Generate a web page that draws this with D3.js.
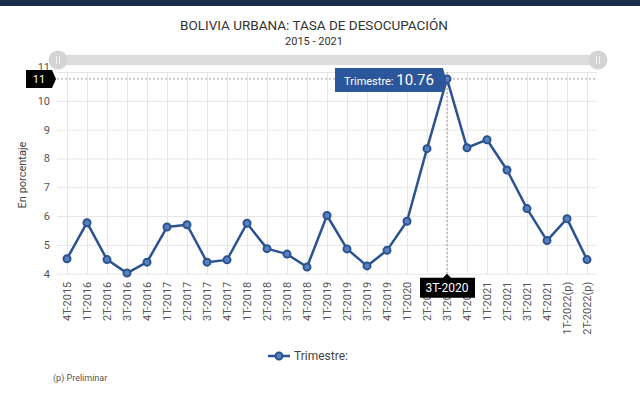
<html>
<head>
<script src="https://d3js.org/d3.v7.min.js"></script>
<style>
  body { margin: 0; background: #fff; }
  text { font-family: Roboto, "Noto Sans", sans-serif; }
  .grid line { stroke: #e6e6e6; }
  .grid .domain { stroke: none; }
  .axis .domain { stroke: none; }
  .axis line { stroke: none; }
  .axis text { fill: #555; font-size: 11px; }
</style>
</head>
<body>
<svg id="chart" width="640" height="395"></svg>
<script>
// data
const quarters = ["4T-2015","1T-2016","2T-2016","3T-2016","4T-2016","1T-2017","2T-2017","3T-2017","4T-2017",
  "1T-2018","2T-2018","3T-2018","4T-2018","1T-2019","2T-2019","3T-2019","4T-2019",
  "1T-2020","2T-2020","3T-2020","4T-2020","1T-2021","2T-2021","3T-2021","4T-2021","1T-2022(p)","2T-2022(p)"];
const rates = [4.52, 5.77, 4.49, 4.02, 4.40, 5.62, 5.70, 4.40, 4.48,
  5.75, 4.87, 4.68, 4.23, 6.02, 4.86, 4.27, 4.81,
  5.82, 8.34, 10.76, 8.37, 8.65, 7.60, 6.26, 5.15, 5.91, 4.49];
const yTicks = [4, 5, 6, 7, 8, 9, 10, 11];
const highlight = "3T-2020";

const svg = d3.select('svg#chart');
const margins = {top: 72, left: 57, right: 43, bottom: 121};
const width = 640, height = 395;
const chartWidth = width - margins.left - margins.right;
const chartHeight = height - margins.top - margins.bottom - 0.3;

// top bar
svg.append('rect').attr('x', 0).attr('y', 0).attr('width', width).attr('height', 6).attr('fill', '#1c2d4b');

// titles
svg.append('text').attr('x', 314).attr('y', 30).attr('text-anchor', 'middle')
  .attr('font-size', 13.5).attr('fill', '#333').text('BOLIVIA URBANA: TASA DE DESOCUPACIÓN');
svg.append('text').attr('x', 314).attr('y', 45).attr('text-anchor', 'middle')
  .attr('font-size', 11).attr('fill', '#333').text('2015 - 2021');

const xScale = d3.scalePoint().domain(quarters).range([0, chartWidth]).padding(0.5);
const yScale = d3.scaleLinear().domain([4, 11]).range([chartHeight, 0]);

const chartArea = svg.append('g').attr('transform', `translate(${margins.left},${margins.top})`);

// gridlines
chartArea.append('g').attr('class', 'grid')
  .call(d3.axisLeft(yScale).tickValues(yTicks).tickSize(-chartWidth).tickFormat(''));
chartArea.append('g').attr('class', 'grid')
  .call(d3.axisBottom(xScale).tickSize(chartHeight).tickFormat(''));

// y axis (top label 11 sits partly under the scrollbar)
const leftAxis = chartArea.append('g').attr('class', 'axis')
  .attr('transform', 'translate(-4,0)')
  .call(d3.axisLeft(yScale).tickValues(yTicks).tickSize(0).tickFormat(d3.format('d')));
leftAxis.selectAll('text').attr('font-size', 12).attr('fill', '#555');
leftAxis.selectAll('.tick').filter(d => d === 11).select('text').attr('dy', '-0.1em');

// x axis
const bottomAxis = chartArea.append('g').attr('class', 'axis')
  .attr('transform', `translate(0,${chartHeight + 8})`)
  .call(d3.axisBottom(xScale).tickSize(0));
bottomAxis.selectAll('text')
  .attr('transform', 'rotate(-90)')
  .attr('text-anchor', 'end')
  .attr('x', 0).attr('y', 0).attr('dx', 0).attr('dy', '0.35em');

// y title
svg.append('text').attr('transform', 'translate(26,175) rotate(-90)')
  .attr('text-anchor', 'middle').attr('font-size', 11).attr('fill', '#444').text('En porcentaje');

// crosshair lines
const hx = xScale(highlight);
const hy = yScale(rates[quarters.indexOf(highlight)]);
chartArea.append('line').attr('x1', hx).attr('x2', hx).attr('y1', 0).attr('y2', chartHeight)
  .attr('stroke', '#999').attr('stroke-dasharray', '2,2');
chartArea.append('line').attr('x1', 0).attr('x2', chartWidth).attr('y1', hy).attr('y2', hy)
  .attr('stroke', '#999').attr('stroke-dasharray', '2,2');

// line and markers
const line = d3.line().x((d, i) => xScale(quarters[i])).y(d => yScale(d));
chartArea.append('path').datum(rates).attr('d', line)
  .attr('fill', 'none').attr('stroke', '#2c5391').attr('stroke-width', 2.5).attr('stroke-linejoin', 'round');
chartArea.selectAll('circle.pt').data(rates).join('circle').attr('class', 'pt')
  .attr('cx', (d, i) => xScale(quarters[i])).attr('cy', d => yScale(d))
  .attr('r', 3.5).attr('fill', '#5a80c0').attr('stroke', '#2c5391').attr('stroke-width', 2);

// scrollbar
svg.append('rect').attr('x', 58).attr('y', 55).attr('width', 540).attr('height', 10)
  .attr('fill', '#dcdcdc');
[58, 598].forEach(cx => {
  svg.append('circle').attr('cx', cx).attr('cy', 60).attr('r', 9.5).attr('fill', '#d4d4d4');
  [-1.5, 1.5].forEach(o => svg.append('line').attr('x1', cx + o).attr('x2', cx + o)
    .attr('y1', 56).attr('y2', 64).attr('stroke', '#f2f2f2').attr('stroke-width', 1));
});

// y crosshair label
const yLab = svg.append('g').attr('transform', `translate(0,${margins.top + hy})`);
yLab.append('path').attr('d', 'M26,-9 H52 L56,0 L52,9 H26 Z').attr('fill', '#000');
yLab.append('text').attr('x', 39).attr('y', 4).attr('text-anchor', 'middle')
  .attr('font-size', 11).attr('fill', '#fff').text(d3.format('d')(Math.round(yScale.invert(hy))));

// x crosshair label
const xLab = svg.append('g').attr('transform', `translate(${margins.left + hx},${margins.top + chartHeight})`);
xLab.append('path').attr('d', 'M-27,4 H-4 L0,0 L4,4 H28 V24 H-27 Z').attr('fill', '#000');
xLab.append('text').attr('x', 0).attr('y', 18).attr('text-anchor', 'middle')
  .attr('font-size', 12).attr('fill', '#fff').text(highlight);

// tooltip
const tip = svg.append('g').attr('transform', `translate(${margins.left + hx},${margins.top + hy})`);
tip.append('path').attr('d', 'M-112,-11 H-4 L-1,0 L-4,13 H-112 Z').attr('fill', '#2b579a');
const tt = tip.append('text').attr('x', -58).attr('y', 6).attr('text-anchor', 'middle').attr('fill', '#fff');
tt.append('tspan').attr('font-size', 11).text('Trimestre: ');
tt.append('tspan').attr('font-size', 15).text('10.76');

// legend
svg.append('line').attr('x1', 268).attr('x2', 290).attr('y1', 356).attr('y2', 356)
  .attr('stroke', '#2c5391').attr('stroke-width', 2.5);
svg.append('circle').attr('cx', 279).attr('cy', 356).attr('r', 3.5)
  .attr('fill', '#5a80c0').attr('stroke', '#2c5391').attr('stroke-width', 2);
svg.append('text').attr('x', 294).attr('y', 360).attr('font-size', 12).attr('fill', '#444').text('Trimestre:');

svg.append('text').attr('x', 53).attr('y', 381).attr('font-size', 9).attr('fill', '#555').text('(p) Preliminar');
</script>
</body>
</html>
